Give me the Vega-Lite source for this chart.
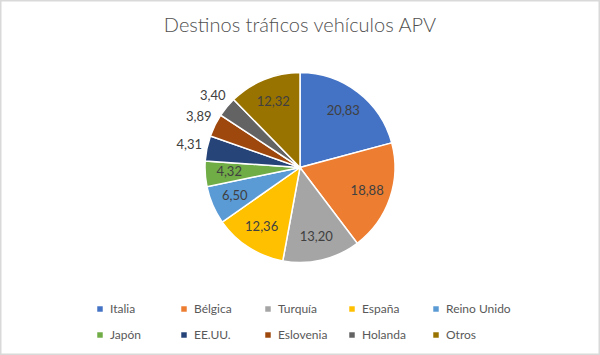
{
  "$schema": "https://vega.github.io/schema/vega-lite/v6.json",
  "width": 600,
  "height": 355,
  "autosize": {"type": "none"},
  "padding": 0,
  "background": "white",
  "view": {"stroke": "#d9d9d9", "strokeWidth": 3},
  "config": {
    "locale": {"number": {"decimal": ",", "thousands": ".", "grouping": [3], "currency": ["", " €"]}}
  },
  "title": {
    "text": "Destinos tráficos vehículos APV",
    "font": "Lato",
    "fontSize": 20,
    "fontWeight": 300,
    "color": "#505050",
    "anchor": "middle",
    "offset": -36
  },
  "data": {
    "values": [
      {"pais": "Italia", "pct": 20.83, "n": 1},
      {"pais": "Bélgica", "pct": 18.88, "n": 2},
      {"pais": "Turquía", "pct": 13.20, "n": 3},
      {"pais": "España", "pct": 12.36, "n": 4},
      {"pais": "Reino Unido", "pct": 6.50, "n": 5},
      {"pais": "Japón", "pct": 4.32, "n": 6},
      {"pais": "EE.UU.", "pct": 4.31, "n": 7},
      {"pais": "Eslovenia", "pct": 3.89, "n": 8},
      {"pais": "Holanda", "pct": 3.40, "n": 9},
      {"pais": "Otros", "pct": 12.32, "n": 10}
    ]
  },
  "encoding": {
    "theta": {"field": "pct", "type": "quantitative", "stack": true},
    "order": {"field": "n", "type": "quantitative"}
  },
  "layer": [
    {
      "mark": {"type": "arc", "outerRadius": 95, "stroke": "white", "strokeWidth": 1.5, "yOffset": -10},
      "encoding": {
        "color": {
          "field": "pais",
          "type": "nominal",
          "sort": null,
          "scale": {
            "domain": ["Italia", "Bélgica", "Turquía", "España", "Reino Unido", "Japón", "EE.UU.", "Eslovenia", "Holanda", "Otros"],
            "range": ["#4472C4", "#ED7D31", "#A5A5A5", "#FFC000", "#5B9BD5", "#70AD47", "#264478", "#9E480E", "#636363", "#997300"]
          },
          "legend": {
            "title": null,
            "orient": "none",
            "legendX": 94,
            "legendY": 303,
            "direction": "horizontal",
            "columns": 5,
            "gridAlign": "all",
            "symbolType": "square",
            "symbolSize": 30,
            "symbolStrokeWidth": 0,
            "labelFont": "Lato",
            "labelFontSize": 12,
            "labelColor": "#595959",
            "labelOffset": 4,
            "columnPadding": 3,
            "rowPadding": 14
          }
        }
      }
    },
    {
      "mark": {"type": "text", "radius": 71, "yOffset": -10, "font": "Lato", "fontSize": 13, "color": "#404040"},
      "encoding": {
        "detail": {"field": "pais", "type": "nominal"},
        "text": {"condition": {"test": "datum.pct > 4.315", "field": "pct", "type": "quantitative", "format": ".2f"}, "value": ""}
      }
    },
    {
      "mark": {"type": "text", "radius": 113, "yOffset": -10, "font": "Lato", "fontSize": 13, "color": "#404040"},
      "encoding": {
        "detail": {"field": "pais", "type": "nominal"},
        "text": {"condition": {"test": "datum.pct <= 4.315", "field": "pct", "type": "quantitative", "format": ".2f"}, "value": ""}
      }
    }
  ]
}
